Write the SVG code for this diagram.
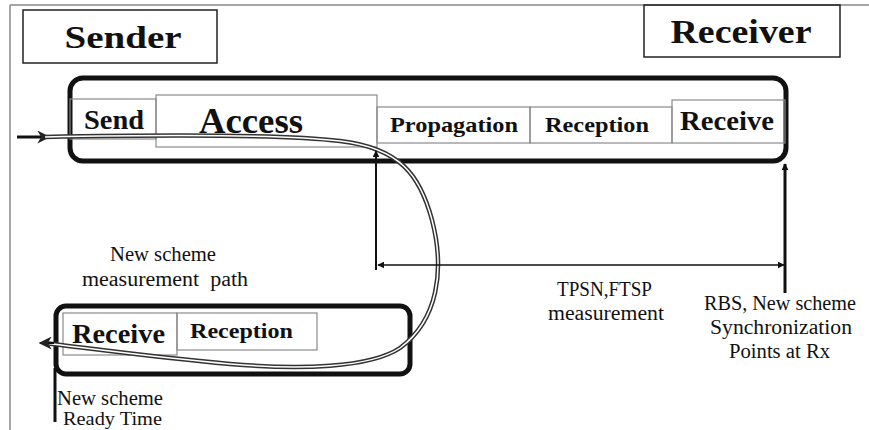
<svg xmlns="http://www.w3.org/2000/svg" width="869" height="430" viewBox="0 0 869 430">
<defs>
<style>
.t{font-family:"Liberation Serif","Times New Roman",serif;fill:#111;}
.b{font-weight:bold;}
.cell{fill:none;stroke:#8a8a8a;stroke-width:1.2;}
.lbl{fill:none;stroke:#222;stroke-width:1.5;}
.big{fill:none;stroke:#111;stroke-width:5;}
.ln{stroke:#111;fill:none;}
</style>
<marker id="ah" viewBox="0 0 10 10" refX="9" refY="5" markerWidth="7" markerHeight="7" markerUnits="userSpaceOnUse" orient="auto-start-reverse"><path d="M0,0 L10,5 L0,10 z" fill="#111"/></marker>
<marker id="ahb" viewBox="0 0 10 10" refX="9" refY="5" markerWidth="13" markerHeight="13" markerUnits="userSpaceOnUse" orient="auto-start-reverse"><path d="M0,0 L10,5 L0,10 L3,5 z" fill="#222"/></marker>
</defs>
<rect width="869" height="430" fill="#fff"/>
<g id="frame">
<line x1="10" y1="5" x2="869" y2="5" stroke="#888" stroke-width="1.5"/>
<line x1="10" y1="5" x2="10" y2="430" stroke="#888" stroke-width="1.5"/>
</g>
<g id="sender">
<rect x="23" y="10" width="194" height="53" class="lbl"/>
<text x="123" y="48" class="t b" font-size="31" text-anchor="middle" textLength="117" lengthAdjust="spacingAndGlyphs">Sender</text>
</g>
<g id="receiver">
<rect x="644" y="5" width="196" height="52" class="lbl"/>
<text x="741" y="43" class="t b" font-size="33" text-anchor="middle" textLength="141" lengthAdjust="spacingAndGlyphs">Receiver</text>
</g>
<g id="top-process">
<rect x="70" y="78" width="716" height="83" rx="13" class="big"/>
<rect x="70" y="99" width="86" height="40" class="cell"/>
<rect x="156" y="95" width="221" height="52" class="cell"/>
<rect x="377" y="107" width="153" height="36" class="cell"/>
<rect x="530" y="107" width="142" height="36" class="cell"/>
<rect x="672" y="100" width="113" height="43" class="cell"/>
<text x="84" y="129" class="t b" font-size="28" textLength="60" lengthAdjust="spacingAndGlyphs">Send</text>
<text x="199" y="133" class="t b" font-size="36" textLength="104" lengthAdjust="spacingAndGlyphs">Access</text>
<text x="390" y="132" class="t b" font-size="22" textLength="128" lengthAdjust="spacingAndGlyphs">Propagation</text>
<text x="545" y="132" class="t b" font-size="22" textLength="104" lengthAdjust="spacingAndGlyphs">Reception</text>
<text x="680" y="130" class="t b" font-size="28" textLength="94" lengthAdjust="spacingAndGlyphs">Receive</text>
</g>
<g id="bottom-process">
<rect x="56" y="306" width="354" height="68" rx="10" class="big"/>
<rect x="63" y="313" width="114" height="42" class="cell"/>
<rect x="177" y="313" width="140" height="37" class="cell"/>
<text x="72" y="343" class="t b" font-size="28" textLength="93" lengthAdjust="spacingAndGlyphs">Receive</text>
<text x="190" y="338" class="t b" font-size="22" textLength="103" lengthAdjust="spacingAndGlyphs">Reception</text>
</g>
<g id="labels">
<text x="163" y="261" class="t" font-size="20" text-anchor="middle" textLength="106" lengthAdjust="spacingAndGlyphs">New scheme</text>
<text x="82" y="286" class="t" font-size="20" textLength="166" lengthAdjust="spacingAndGlyphs" xml:space="preserve">measurement  path</text>
<text x="557" y="296" class="t" font-size="20" textLength="95" lengthAdjust="spacingAndGlyphs">TPSN,FTSP</text>
<text x="548" y="320" class="t" font-size="20" textLength="116" lengthAdjust="spacingAndGlyphs">measurement</text>
<text x="704" y="310" class="t" font-size="20" textLength="152" lengthAdjust="spacingAndGlyphs">RBS, New scheme</text>
<text x="710" y="334" class="t" font-size="20" textLength="142" lengthAdjust="spacingAndGlyphs">Synchronization</text>
<text x="729" y="358" class="t" font-size="20" textLength="101" lengthAdjust="spacingAndGlyphs">Points at Rx</text>
<text x="57" y="405" class="t" font-size="20" textLength="106" lengthAdjust="spacingAndGlyphs">New scheme</text>
<text x="63" y="425" class="t" font-size="19" textLength="99" lengthAdjust="spacingAndGlyphs">Ready Time</text>
</g>
<g id="connectors">
<line x1="17" y1="137" x2="49" y2="137" class="ln" stroke-width="3" marker-end="url(#ahb)"/>
<path d="M45,137 C150,135 280,134 340,141 C400,148 420,175 432,220 C445,270 438,320 400,348 C370,368 300,370 230,364 C150,357 80,347 44,343" fill="none" stroke="#333" stroke-width="4.5"/>
<path d="M45,137 C150,135 280,134 340,141 C400,148 420,175 432,220 C445,270 438,320 400,348 C370,368 300,370 230,364 C150,357 80,347 44,343" fill="none" stroke="#fff" stroke-width="1.5"/>
<path d="M54,343 L40,343" class="ln" stroke-width="2" marker-end="url(#ahb)"/>
<line x1="376" y1="270" x2="376" y2="151" class="ln" stroke-width="2" marker-end="url(#ah)"/>
<line x1="378" y1="265" x2="784" y2="265" class="ln" stroke-width="1.6" marker-start="url(#ah)" marker-end="url(#ah)"/>
<line x1="785" y1="293" x2="785" y2="164" class="ln" stroke-width="3" marker-end="url(#ah)"/>
<line x1="55" y1="368" x2="55" y2="422" class="ln" stroke-width="3"/>
</g>
</svg>
